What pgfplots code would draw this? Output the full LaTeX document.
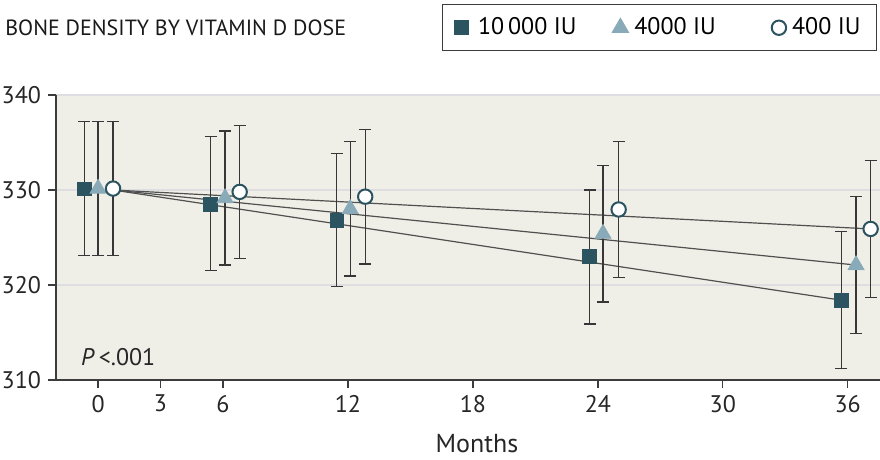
\documentclass[border=0pt]{standalone}
\usepackage{fontspec}
\setmainfont{PT Sans}
\usepackage{pgfplots}
\usepackage{pgfplotstable}
\pgfplotsset{compat=1.18}
\definecolor{bgc}{RGB}{240,239,231}
\definecolor{gridc}{RGB}{221,221,226}
\definecolor{sqc}{RGB}{43,84,96}
\definecolor{tric}{RGB}{137,170,184}
\definecolor{axc}{RGB}{60,60,60}
\definecolor{errc}{RGB}{55,55,55}
\definecolor{linec}{RGB}{80,80,80}

\pgfplotstableread{
x y ep em
-0.67 330.1 7.1 7.0
5.40 328.5 7.1 7.0
11.46 326.8 7.0 7.0
23.60 323.0 7.0 7.1
35.70 318.4 7.2 7.2
}\sqdata
\pgfplotstableread{
x y ep em
0.00 330.15 7.05 7.05
6.10 329.15 7.05 7.05
12.11 328.0 7.1 7.05
24.25 325.4 7.2 7.2
36.40 322.1 7.2 7.2
}\tridata
\pgfplotstableread{
x y ep em
0.72 330.15 7.05 7.05
6.80 329.8 7.0 7.0
12.83 329.3 7.05 7.1
25.00 327.95 7.15 7.15
37.10 325.9 7.2 7.2
}\cirdata
\pgfplotstableread{
x y
0.72 330.0
35.70 318.4
}\lsq
\pgfplotstableread{
x y
0.72 330.0
36.40 322.1
}\ltri
\pgfplotstableread{
x y
0.72 330.0
37.10 325.9
}\lcir

\begin{document}
\begin{tikzpicture}
\useasboundingbox (0,0) rectangle (440pt,230pt);
\begin{axis}[
  at={(28pt,40pt)}, anchor=south west,
  scale only axis, width=412pt, height=142.5pt,
  xmin=-2.02, xmax=37.55, ymin=310, ymax=340,
  clip=false,
  axis x line*=bottom, axis y line*=left,
  axis line style={draw=axc, line width=0.9pt, -},
  axis background/.style={fill=bgc},
  ymajorgrids, grid style={draw=gridc, line width=1pt},
  xtick={0,3,6,12,18,24,30,36},
  ytick={310,320,330,340},
  tick align=outside, major tick length=4pt,
  tick style={draw=axc, line width=0.7pt},
  /pgf/number format/assume math mode=true,
  ticklabel style={font=\fontsize{12}{14}\selectfont, text=black!85},
  xlabel={Months},
  xlabel style={font=\fontsize{13}{15}\selectfont, text=black!85, xshift=4.5pt, yshift=-4pt},
  error bars/error bar style={draw=errc, line width=0.6pt},
  error bars/error mark options={rotate=90, mark size=3pt, draw=errc, line width=0.6pt},
  legend columns=3,
  legend style={at={(0.9964,1.319)}, anchor=north east, draw=axc, line width=0.6pt,
    font=\fontsize{12}{14}\selectfont, inner xsep=6pt, inner ysep=4.5pt},
]
\addplot[forget plot, draw=linec, line width=0.6pt] table[x=x,y=y] {\lsq};
\addplot[forget plot, draw=linec, line width=0.6pt] table[x=x,y=y] {\ltri};
\addplot[forget plot, draw=linec, line width=0.6pt] table[x=x,y=y] {\lcir};

\addplot[only marks, mark=square*, mark size=3.4pt, mark options={fill=sqc, draw=sqc},
  error bars/.cd, y dir=both, y explicit]
  table[x=x, y=y, y error plus=ep, y error minus=em] {\sqdata};
\addlegendentry{\hspace{3pt}10\,000 IU\rule{16pt}{0pt}}
\addplot[only marks, mark=triangle*, mark size=4.6pt, mark options={fill=tric, draw=tric},
  error bars/.cd, y dir=both, y explicit]
  table[x=x, y=y, y error plus=ep, y error minus=em] {\tridata};
\addlegendentry{\hspace{1pt}4000 IU\rule{26pt}{0pt}}
\addplot[only marks, mark=*, mark size=3.6pt, mark options={fill=white, draw=sqc, line width=1pt},
  error bars/.cd, y dir=both, y explicit]
  table[x=x, y=y, y error plus=ep, y error minus=em] {\cirdata};
\addlegendentry{\hspace{1pt}400 IU}

\node[anchor=west, inner sep=0pt, font=\fontsize{11}{13}\selectfont, text=black!90] at (axis description cs:-0.0619,1.235) {BONE DENSITY BY VITAMIN D DOSE};
\node[anchor=west, font=\fontsize{12}{14}\selectfont, text=black!85] at (axis cs:-1.15,312.4) {\textit{P}\,<.001};
\end{axis}
\end{tikzpicture}
\end{document}
